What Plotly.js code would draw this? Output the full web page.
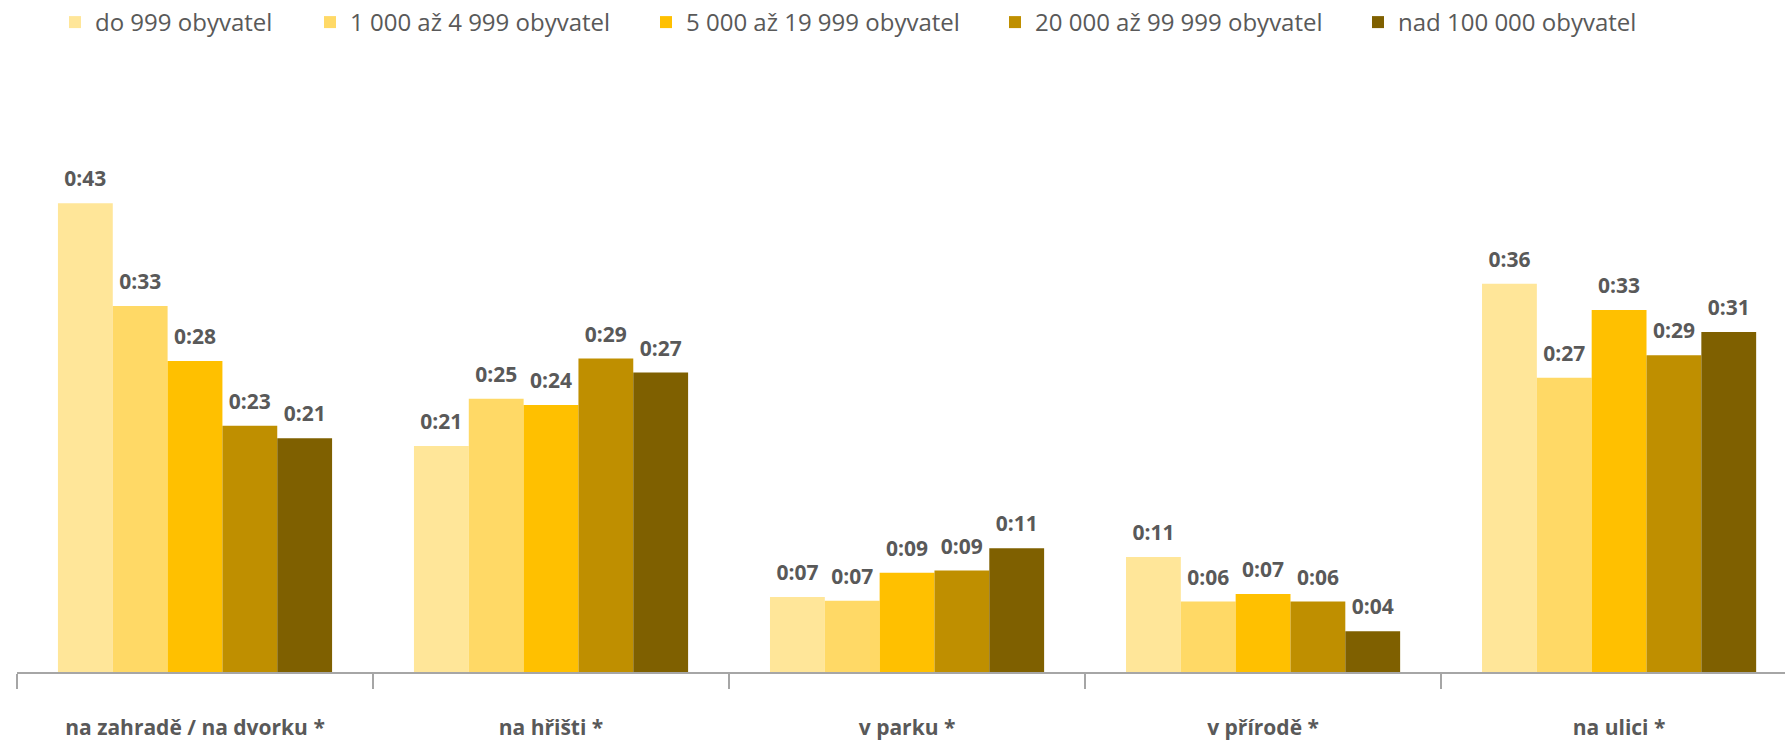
<!DOCTYPE html>
<html>
<head>
<meta charset="utf-8">
<script src="https://cdn.plot.ly/plotly-3.0.1.min.js"></script>
<style>html,body{margin:0;padding:0;background:#fff;}#chart{width:1785px;height:744px;}</style>
</head>
<body>
<div id="chart"></div>
<script>
// Categories (x axis)
const categories = ['na zahradě / na dvorku *', 'na hřišti *', 'v parku *', 'v přírodě *', 'na ulici *'];
// Series names (legend)
const seriesNames = ['do 999 obyvatel', '1 000 až 4 999 obyvatel', '5 000 až 19 999 obyvatel', '20 000 až 99 999 obyvatel', 'nad 100 000 obyvatel'];
// Values in minutes (labels show h:mm)
const s1 = [42.88, 20.68, 6.86, 10.52, 35.52];
const s2 = [33.49, 25.01, 6.52, 6.44, 26.93];
const s3 = [28.45, 24.43, 9.09, 7.14, 33.12];
const s4 = [22.53, 28.67, 9.28, 6.44, 28.98];
const s5 = [21.38, 27.39, 11.32, 3.72, 31.11];
const seriesValues = [s1, s2, s3, s4, s5];

// Styles
const colors = ['#FFE699', '#FFD966', '#FFC000', '#BF8F00', '#7F6000'];
const legendWidths = [210, 291, 304, 318, 240];
const FONT = 'Open Sans, Noto Sans, sans-serif';
const GREY = '#595959';

function fmt(v) {
  const m = Math.round(v);
  return '0:' + (m < 10 ? '0' + m : String(m));
}

const traces = [];
seriesValues.forEach((vals, i) => {
  traces.push({
    type: 'bar',
    name: seriesNames[i],
    x: categories,
    y: vals,
    marker: {color: colors[i], line: {width: 0}},
    offsetgroup: 'g' + i,
    alignmentgroup: 'a',
    legendwidth: legendWidths[i],
    hoverinfo: 'skip'
  });
});
seriesValues.forEach((vals, i) => {
  traces.push({
    type: 'scatter',
    mode: 'markers+text',
    x: categories,
    y: vals,
    text: vals.map(fmt),
    textposition: 'top center',
    textfont: {family: FONT, size: 21, color: GREY, weight: 'bold'},
    marker: {size: 17, opacity: 0, color: colors[i]},
    offsetgroup: 'g' + i,
    alignmentgroup: 'a',
    showlegend: false,
    cliponaxis: false,
    hoverinfo: 'skip'
  });
});

const layout = {
  width: 1785,
  height: 744,
  margin: {l: 17, r: 0, t: 80, b: 72},
  paper_bgcolor: '#ffffff',
  plot_bgcolor: '#ffffff',
  barmode: 'group',
  scattermode: 'group',
  bargap: 0.23,
  bargroupgap: 0,
  scattergap: 0.23,
  showlegend: true,
  legend: {
    orientation: 'h',
    xref: 'container', yref: 'container',
    x: 55 / 1785, xanchor: 'left',
    y: 1, yanchor: 'top',
    font: {family: FONT, size: 24, color: GREY},
    traceorder: 'normal',
    bgcolor: 'rgba(0,0,0,0)'
  },
  xaxis: {
    type: 'category',
    range: [-0.5, 4.466],
    showline: true,
    linecolor: '#A6A6A6',
    linewidth: 1.5,
    ticks: 'outside',
    tickson: 'boundaries',
    ticklen: 15,
    tickcolor: '#A6A6A6',
    tickwidth: 1.5,
    ticklabelstandoff: 36,
    tickfont: {family: FONT, size: 21, color: GREY, weight: 'bold'},
    showgrid: false,
    zeroline: false,
    fixedrange: true
  },
  yaxis: {
    range: [0, 54.16],
    visible: false,
    showgrid: false,
    zeroline: false,
    fixedrange: true
  },
  font: {family: FONT, color: GREY}
};

Plotly.newPlot('chart', traces, layout, {displayModeBar: false, staticPlot: true});
</script>
</body>
</html>
